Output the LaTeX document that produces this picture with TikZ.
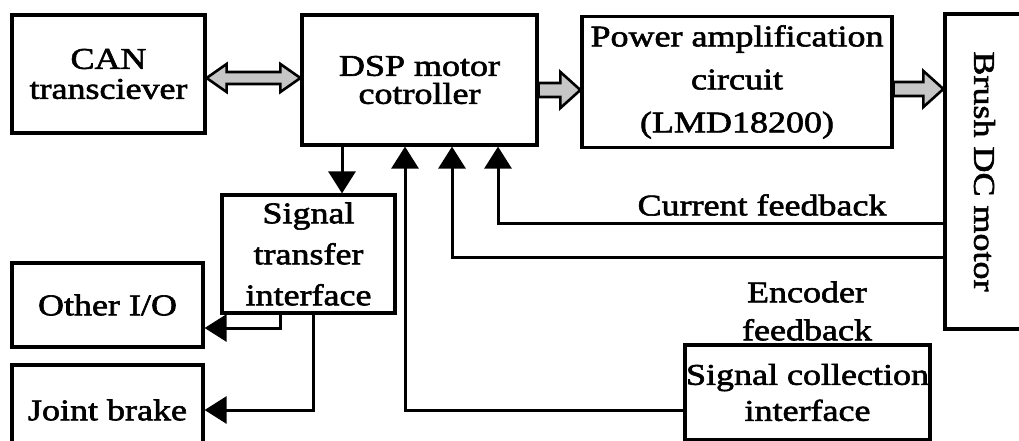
\documentclass[tikz,border=0pt]{standalone}
\usepackage{fontspec}
\setmainfont{Liberation Serif}[FakeStretch=1.2,FakeBold=2]
\usetikzlibrary{arrows.meta,calc}
\newcommand\fatarrowR[2]{\path[fat] ($(#1)+(0,-7)$) -- ($(#2)+(-20,-7)$) -- ++(0,-11) -- (#2) -- ++(-20,18) -- ++(0,-11) -- ($(#1)+(0,7)$) -- cycle;}
\begin{document}
\begin{tikzpicture}[x=1pt,y=-1pt,
 box/.style={draw,line width=3.2pt,inner sep=0pt,align=center,font=\fontsize{30}{30}\selectfont},
 lbl/.style={inner sep=0pt,align=center,font=\fontsize{30}{30}\selectfont},
 conn/.style={line width=3pt,-{Triangle[width=27pt,length=22pt]}},
 fat/.style={draw,line width=2.6pt,fill=gray!45,line join=miter}]
\useasboundingbox (0,0) rectangle (1019,441);
\clip (0,0) rectangle (1019,441);
% boxes
\node[box,minimum width=193pt,minimum height=118pt] (can) at (108.5,74) {CAN\\transciever};
\node[box,minimum width=235pt,minimum height=130pt,font=\fontsize{30}{28}\selectfont] (dsp) at (419.5,80) {DSP motor\\cotroller};
\node[box,minimum width=310pt,minimum height=131pt,font=\fontsize{30}{43}\selectfont] (power) at (737,82) {Power amplification\\circuit\\(LMD18200)};
\node[box,rotate=-90,minimum width=315pt,minimum height=79pt] (motor) at (984.5,171.5) {Brush DC motor};
\node[box,minimum width=173pt,minimum height=118pt,font=\fontsize{30}{41}\selectfont] (st) at (308.5,254) {Signal\\transfer\\interface};
\node[box,minimum width=191pt,minimum height=84pt] (oio) at (107.5,305) {Other I/O};
\node[box,minimum width=191pt,minimum height=90pt] (jb) at (107.5,410) {Joint brake};
\node[box,minimum width=245pt,minimum height=95pt,font=\fontsize{30}{36}\selectfont] (sc) at (807.5,392.5) {Signal collection\\interface};
% labels
\node[lbl] (cf) at (762,205) {Current feedback};
\node[lbl,font=\fontsize{30}{38}\selectfont] (ef) at (807,311) {Encoder\\feedback};
% fat arrows
\coordinate (a1) at (can.east |- 0,78);
\coordinate (a2) at (dsp.west |- 0,78);
\path[fat] (a1) -- ++(20,-14) -- ++(0,8) -- ($(a2)+(-20,-6)$) -- ++(0,-8) -- (a2) -- ++(-20,14) -- ++(0,-8) -- ($(a1)+(20,6)$) -- ++(0,8) -- cycle;
\coordinate (b1) at (dsp.east |- 0,90);
\coordinate (b2) at (power.west |- 0,90);
\fatarrowR{b1}{b2}
\coordinate (c1) at (power.east |- 0,89);
\coordinate (c2) at (motor.south |- 0,89);
\fatarrowR{c1}{c2}
% signal arrows
\draw[conn] (dsp.south -| 342,0) -- (st.north -| 342,0);
\draw[conn] (st.south -| 280,0) |- (oio.east |- 0,328);
\draw[conn] (st.south -| 313,0) |- (jb.east |- 0,410);
\draw[conn] (motor.south |- 0,223) -| (dsp.south -| 498,0);
\draw[conn] (motor.south |- 0,257) -| (dsp.south -| 452,0);
\draw[conn] (sc.west |- 0,410) -| (dsp.south -| 405,0);
\end{tikzpicture}
\end{document}
